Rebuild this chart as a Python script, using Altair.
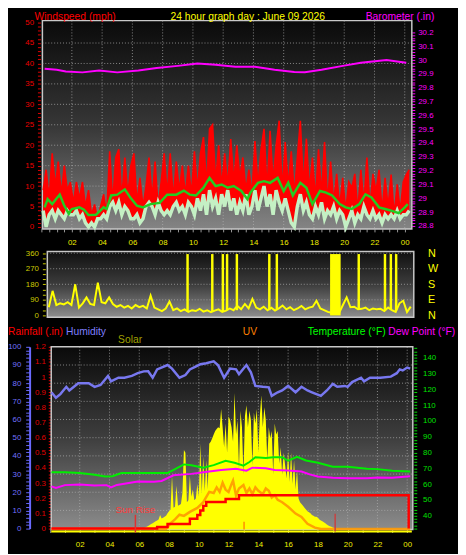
import altair as alt
import pandas as pd

W, H = 458, 546
FONT = "Liberation Sans"

# ---------------- text ----------------
chart_title = "24 hour graph day : June 09 2026"
top_left_title = "Windspeed (mph)"
top_right_title = "Barometer (.in)"
rain_title = "Rainfall (.in)"
hum_title = "Humidity"
solar_title = "Solar"
uv_title = "UV"
temp_title = "Temperature (°F)"
dew_title = "Dew Point (°F)"
sun_rise_label = "Sun Rise"

# ---------------- top panel: wind (one sample every 0.2 h from 00:06) ----------------
gust = [
    9, 14, 7, 18, 10,
    16, 8, 15, 9, 11,
    6, 11, 7, 11, 5,
    9, 3, 5.5, 2, 5,
    8, 3, 18.5, 6, 17,
    19, 7, 17, 8, 15,
    18, 6, 12, 5, 10,
    17, 7, 16, 5, 11,
    18, 8, 18, 7, 16,
    9, 15, 8, 15, 8,
    18.5, 9, 18, 22, 10,
    24, 25, 11, 20, 10,
    18, 10, 21.5, 11, 20,
    12, 17, 9, 14, 8,
    21, 10, 19, 24, 9,
    23.5, 11, 20, 26, 9,
    20.8, 10, 18.5, 8, 17,
    26, 10, 21.6, 9, 17,
    7, 19, 8, 20.8, 6,
    16, 6, 13, 5, 12,
    4, 11, 9.6, 13, 4,
    14, 6, 17, 5, 13,
    8.8, 14, 4, 12, 5,
    12.8, 3, 10.4, 4, 11,
    12.8, 14]
wind = [
    4, 0, 3, 4, 2,
    4, 3, 2, 4, 3,
    3, 4, 2, 3, 1,
    0, 1, 0, 2, 2,
    3, 2, 5, 6, 4,
    6, 3, 5, 4, 2,
    2, 3, 1, 2, 5,
    6, 5, 3, 6, 4,
    3, 4, 3, 5, 6,
    4, 5, 3, 6, 5,
    3, 7, 4, 8, 3,
    9, 5, 7, 3, 8,
    5, 9, 4, 7, 3,
    6, 4, 8, 3, 5,
    9, 4, 7, 10, 5,
    8, 3, 9, 6, 4,
    7, 4, 1, 0, 5,
    8, 4, 6, 3, 2,
    5, 3, 6, 2, 4,
    3, 5, 2, 4, 3,
    0, 2, 4, 1, 3,
    2, 5, 3, 2, 4,
    2, 3, 1, 3, 2,
    3, 2, 4, 2, 3,
    3, 4]
wind_hours = [round(0.1 + 0.2 * i, 2) for i in range(len(gust))]

avg_hours = [0.2, 0.4, 0.7, 1.0, 1.2, 1.5, 1.8, 2.0, 2.5, 2.8, 3.1, 3.6, 4.1, 4.3, 4.6,
             5.0, 5.5, 5.9, 6.3, 6.7, 7.2, 7.8, 8.3, 8.9, 9.4, 9.8, 10.2, 10.7, 11.1, 11.5,
             11.9, 12.3, 12.7, 13.2, 13.6, 13.8, 14.3, 14.7, 15.1, 15.6, 16.0, 16.3, 16.6, 17.1, 17.5,
             17.9, 18.4, 18.8, 19.2, 19.7, 20.1, 20.5, 21.0, 21.4, 21.8, 22.3, 22.7, 23.1, 23.6, 24.0, 24.2]
avg_wind = [4.8, 6.8, 5.6, 7.0, 7.9, 5.2, 3.2, 4.4, 4.8, 4.2, 2.9, 3.0, 4.8, 4.4, 7.7,
            7.9, 9.2, 7.0, 5.2, 4.8, 5.6, 5.9, 7.9, 7.9, 8.9, 7.9, 7.7, 9.6, 12.0, 10.0,
            10.4, 9.6, 10.0, 8.8, 6.8, 8.4, 10.8, 11.2, 10.8, 12.0, 8.8, 10.8, 7.7, 10.8, 9.6,
            5.6, 8.8, 8.4, 7.7, 5.6, 4.8, 4.4, 5.6, 8.0, 7.2, 4.8, 4.4, 4.0, 3.4, 4.8, 5.6]

baro_hours = [0.2, 1.0, 1.6, 2.7, 3.8, 5.0, 6.4, 7.6, 9.0, 10.3, 11.5, 12.8, 14.1, 15.4,
              16.7, 17.4, 18.5, 20.0, 21.1, 22.8, 23.5, 24.1]
baro = [29.937, 29.93, 29.918, 29.911, 29.925, 29.911, 29.925, 29.942, 29.958, 29.975, 29.966,
        29.951, 29.951, 29.93, 29.914, 29.912, 29.93, 29.96, 29.98, 30.0, 29.99, 29.98]

# ---------------- middle panel: wind direction (every 0.25 h from 0.2 h) ----------------
dir_deg = [
    47, 142, 60, 70,
    64, 76, 60, 180,
    45, 70, 104, 66,
    60, 190, 76, 70,
    104, 66, 50, 60,
    45, 55, 40, 60,
    48, 55, 40, 114,
    45, 35, 25, 40,
    80, 30, 40, 25,
    35, 20, 30, 25,
    38, 22, 30, 19,
    28, 35, 20, 28,
    40, 30, 55, 35,
    66, 40, 95, 45,
    35, 50, 30, 45,
    28, 40, 57, 35,
    48, 30, 40, 55,
    35, 45, 50, 85,
    40, 30, 20, 15,
    10, 15, 60, 104,
    47, 50, 35, 38,
    45, 30, 40, 35,
    38, 25, 45, 30,
    20, 70, 85, 19,
    51]
dir_hours = [round(0.2 + 0.25 * i, 2) for i in range(len(dir_deg))]
north_hours = [9.40, 11.04, 11.74, 12.02, 12.67, 14.82, 15.32, 20.75, 22.49, 22.88, 23.23]
north_low = [20, 25, 25, 30, 30, 30, 35, 35, 30, 35, 30]
north_high = [355, 355, 355, 355, 355, 355, 355, 355, 355, 355, 355]
north_block_start = [18.85]
north_block_end = [19.55]
north_block_low = [0]
north_block_high = [355]

# ---------------- bottom panel ----------------
hum_hours = [0.1, 0.4, 0.7, 1.1, 1.3, 1.9, 2.6, 3.0, 3.4, 3.9, 4.1, 4.6, 5.0, 5.5, 5.9,
             6.3, 6.6, 6.9, 7.2, 7.9, 8.2, 8.7, 9.1, 9.4, 10.1, 10.5, 11.0, 11.3, 11.7, 12.1,
             12.5, 12.7, 13.2, 13.5, 13.8, 14.3, 14.7, 14.9, 15.3, 15.6, 16.0, 16.5, 16.9, 17.3,
             17.6, 18.2, 18.6, 19.0, 19.3, 19.8, 20.0, 20.3, 20.9, 21.1, 21.5, 22.2, 22.9, 23.3,
             23.5, 23.7, 24.0, 24.2]
hum = [75, 72, 74, 78, 76, 80, 80, 78, 79, 84, 81, 83, 83, 84, 85.5,
       86.5, 86.6, 83, 87.6, 90, 88, 83, 84.5, 87.6, 90.4, 91, 92, 89.8, 83, 88,
       87.6, 85, 90, 86, 78.5, 78, 77.7, 73, 75, 76, 78.5, 75, 78, 76,
       75, 73, 76, 79.6, 78, 78.5, 78, 80.6, 83, 81, 83, 83, 83.6, 85.5,
       87.6, 87, 88.6, 88]

temp_hours = [0.1, 1.0, 2.0, 3.0, 3.7, 4.2, 4.8, 6.0, 7.9, 8.5, 9.0, 9.5, 10.3, 11.0, 11.8,
              12.4, 13.0, 13.4, 13.8, 14.5, 15.0, 15.6, 16.0, 16.6, 17.2, 18.0, 19.0, 20.0,
              21.3, 22.0, 23.0, 24.2]
temp = [67.5, 67.5, 67, 66, 64.8, 65, 67, 67, 67, 70, 72.5, 72, 70.4, 72, 74.8,
        73.5, 71.7, 74, 77, 76.5, 77, 77, 74.8, 77.3, 75, 73.5, 71, 71,
        69.8, 69.5, 68.5, 68]

dew_hours = [0.1, 0.4, 1.0, 2.0, 3.0, 3.8, 4.1, 4.5, 5.9, 7.0, 7.5, 8.3, 9.5, 10.7, 11.5,
             12.5, 13.2, 13.6, 14.5, 15.1, 16.0, 16.9, 17.5, 18.0, 19.0, 20.0, 21.3, 22.0, 23.0, 24.2]
dew = [58.6, 57.6, 59.4, 59.8, 59.2, 59.4, 58, 59.5, 61.7, 61.5, 62, 65.6, 66.5, 68, 69,
       69.8, 68.5, 70.4, 70, 69, 68.6, 68, 66, 64.8, 64, 63.8, 63.8, 64.2, 64, 65]

rain_hours = [0.1, 7.2, 7.9, 9.4, 9.9, 10.1, 10.3, 10.5, 11.8, 12.7, 24.1]
rain = [0, 0.01, 0.03, 0.065, 0.09, 0.12, 0.15, 0.175, 0.195, 0.22, 0]

# solar radiation, W/m2, every 0.1 h from 06:00
solar = [
    0, 2, 5, 8, 12, 15, 20, 25, 30, 35,
    40, 45, 50, 55, 80, 60, 65, 70, 75, 90,
    100, 110, 295, 120, 125, 240, 130, 135, 140, 200,
    435, 420, 150, 160, 295, 180, 220, 160, 170, 250,
    180, 470, 200, 400, 210, 380, 220, 470, 480, 500,
    520, 540, 550, 560, 555, 660, 560, 450, 580, 420,
    620, 600, 560, 480, 747, 520, 600, 330, 650, 560,
    300, 620, 680, 560, 650, 600, 350, 640, 580, 660,
    420, 620, 735, 560, 670, 600, 380, 560, 500, 540,
    300, 580, 520, 540, 360, 450, 300, 420, 350, 280,
    430, 260, 420, 250, 380, 220, 330, 170, 150, 140,
    130, 120, 110, 100, 95, 90, 80, 75, 70, 70,
    65, 55, 50, 45, 40, 35, 28, 22, 18, 15,
    12, 8, 5, 3, 1, 0]
solar_hours = [round(6.0 + 0.1 * i, 2) for i in range(len(solar))]

uv_hours = [0.1, 7.8, 8.1, 8.4, 8.7, 9.0, 9.4, 9.9, 10.3, 10.7, 11.0, 11.2, 11.4, 11.6, 11.8,
            12.0, 12.2, 12.3, 12.5, 12.7, 13.0, 13.2, 13.4, 13.6, 13.8, 14.0, 14.3, 14.5, 14.7,
            14.9, 15.1, 15.3, 15.6, 16.0, 16.5, 16.9, 17.3, 17.8, 18.2, 24.2]
uv = [0.05, 0.05, 0.54, 0.9, 1.3, 1.2, 1.55, 1.9, 2.4, 3.3, 3.2, 3.7, 3.3, 4.1, 3.5,
      3.3, 4.0, 4.3, 3.0, 3.6, 3.9, 3.2, 3.6, 3.1, 3.7, 3.4, 3.1, 3.6, 3.4,
      2.8, 3.0, 2.6, 2.4, 2.0, 1.4, 1.1, 0.5, 0.17, 0.05, 0.05]

sun_rise_hour = [5.74]
sun_set_hour = [19.16]
solar_noon_hour = [13.04]

# ---------------- scales (pixel ranges place the three panels) ----------------
def S(domain, rng):
    return alt.Scale(domain=domain, range=rng, zero=False, nice=False)

top_x = lambda: S([0, 24], [34.2, 403.8])
ws_y = lambda: S([0, 50], [218, 10])
baro_y = lambda: S([28.8, 30.2], [217, 20.0])
mid_x = lambda: S([0.1, 24.4], [40, 413])
dir_y = lambda: S([0, 360], [308, 244.7])
bot_x = lambda: S([0, 24], [42.7, 406.3])
hum_y = lambda: S([0, 100], [525, 340])
rain_y = lambda: S([0, 1.2], [525, 340])
temp_y = lambda: S([31.3, 146.8], [526, 340])
solar_y = lambda: S([0, 1000], [526, 340])
uv_y = lambda: S([0, 16], [526, 340])

AX = dict(domain=False, grid=False, title=None, labelFont=FONT, labelFontSize=8,
          labelOverlap=False, labelFlush=False)

hour_label = ("(datum.value % 2 == 0 && datum.value > 0) ? (datum.value == 24 ? '00' : "
              "(datum.value < 10 ? '0' + datum.value : '' + datum.value)) : ''")
tenth_label = ("abs(datum.value * 10 - round(datum.value * 10)) < 0.001 ? "
               "format(datum.value, '.1~f') : ''")

top_x_axis = alt.Axis(orient="bottom", offset=-(H - 220), values=[i * 0.5 for i in range(49)],
                      labelExpr=hour_label, tickSize=3, tickColor="#9a9a9a",
                      labelColor="#f0f000", labelPadding=7, **AX)
ws_axis = alt.Axis(orient="left", offset=-33, values=list(range(51)),
                   labelExpr="datum.value % 5 == 0 ? '' + datum.value : ''",
                   tickSize=3, tickColor="#e00000", labelColor="#ee0000", labelPadding=4, **AX)
baro_axis = alt.Axis(orient="right", offset=-(W - 411),
                     values=[round(28.8 + 0.02 * i, 2) for i in range(71)],
                     labelExpr=tenth_label, tickSize=3, tickColor="#ff00ff",
                     labelColor="#ff00ff", labelPadding=3, **AX)
dir_axis = alt.Axis(orient="left", offset=-38, values=list(range(0, 361, 30)),
                    labelExpr="datum.value % 90 == 0 ? '' + datum.value : ''",
                    tickSize=3, tickColor="#cccc00", labelColor="#cccc00", labelPadding=4, **AX)
AXC = dict(AX)
AXC["labelFontSize"] = 11
compass_axis = alt.Axis(orient="right", offset=-(W - 413), values=[0, 90, 180, 270, 360],
                        labelExpr="datum.value == 90 ? 'E' : datum.value == 180 ? 'S' : "
                                  "datum.value == 270 ? 'W' : 'N'",
                        ticks=False, labelColor="#ffff00", labelPadding=14, **AXC)
bot_x_axis = alt.Axis(orient="bottom", offset=-(H - 526), values=list(range(25)),
                      labelExpr=hour_label, tickSize=3, tickColor="#9a9a9a",
                      labelColor="#f0f000", labelPadding=8, **AX)
AXD = dict(AX)
AXD["domain"] = True
hum_axis = alt.Axis(orient="left", offset=-22, values=list(range(0, 101, 2)),
                    labelExpr="datum.value % 10 == 0 ? '' + datum.value : ''",
                    tickSize=4, tickColor="#6a6aff", domainColor="#6a6aff", domainWidth=2,
                    labelColor="#7272ff", labelPadding=5, **AXD)
rain_axis = alt.Axis(orient="left", offset=-44, values=[round(0.02 * i, 2) for i in range(61)],
                     labelExpr=tenth_label, tickSize=3, tickColor="#e00000",
                     labelColor="#e00000", labelPadding=3, **AX)
temp_axis = alt.Axis(orient="right", offset=-(W - 413), values=list(range(32, 147, 2)),
                     labelExpr="(datum.value % 10 == 0 && datum.value >= 40) ? '' + datum.value : ''",
                     tickSize=3, tickColor="#00e000", labelColor="#00e000", labelPadding=6, **AX)

deco = pd.DataFrame({"k": [0]})


def panel_bg(x0, x1, y0, y1, c0, c1, c2):
    grad = alt.LinearGradient(
        gradient="linear",
        stops=[alt.GradientStop(color=c0, offset=0), alt.GradientStop(color=c1, offset=0.5),
               alt.GradientStop(color=c2, offset=1)],
        x1=0, x2=0, y1=0, y2=1)
    return alt.Chart(deco).mark_rect(fill=grad, stroke="#c8c8c8", strokeWidth=1.5).encode(
        x=alt.value(x0), x2=alt.value(x1), y=alt.value(y0), y2=alt.value(y1))


def hgrid(vals, scale, x0, x1):
    return alt.Chart(pd.DataFrame({"v": vals})).mark_rule(
        color="#b0b0b0", strokeDash=[1, 2], strokeWidth=1, opacity=0.75).encode(
        y=alt.Y("v:Q", scale=scale, axis=None), x=alt.value(x0), x2=alt.value(x1))


def vgrid(vals, scale, y0, y1):
    return alt.Chart(pd.DataFrame({"v": vals})).mark_rule(
        color="#b0b0b0", strokeDash=[1, 2], strokeWidth=1, opacity=0.75).encode(
        x=alt.X("v:Q", scale=scale, axis=None), y=alt.value(y0), y2=alt.value(y1))


def label(text, x, y, color, size=10.5, align="left"):
    return alt.Chart(deco).mark_text(text=text, color=color, font=FONT, fontSize=size,
                                     align=align, baseline="middle").encode(
        x=alt.value(x), y=alt.value(y))


layers = []

# ---- top panel ----
layers.append(panel_bg(35, 411, 8, 220, "#0a0a0a", "#363636", "#848484"))
layers.append(hgrid(list(range(5, 50, 5)), ws_y(), 35, 411))
layers.append(vgrid(list(range(2, 25, 2)), top_x(), 8, 220))

top_df = pd.DataFrame({"h": wind_hours, "gust": gust, "wind": wind})
layers.append(alt.Chart(top_df).mark_area(color="#ff0000").encode(
    x=alt.X("h:Q", scale=top_x(), axis=None),
    y=alt.Y("gust:Q", scale=ws_y(), axis=None), y2="wind:Q"))
layers.append(alt.Chart(top_df).mark_line(color="#ff0000", strokeWidth=1.6).encode(
    x=alt.X("h:Q", scale=top_x(), axis=top_x_axis),
    y=alt.Y("gust:Q", scale=ws_y(), axis=ws_axis)))
layers.append(alt.Chart(top_df).mark_line(color="#c4f0c4", strokeWidth=3.5).encode(
    x=alt.X("h:Q", scale=top_x(), axis=None),
    y=alt.Y("wind:Q", scale=ws_y(), axis=None)))
avg_df = pd.DataFrame({"h": avg_hours, "v": avg_wind})
layers.append(alt.Chart(avg_df).mark_line(color="#22cc22", strokeWidth=2.5).encode(
    x=alt.X("h:Q", scale=top_x(), axis=None),
    y=alt.Y("v:Q", scale=ws_y(), axis=None)))
baro_df = pd.DataFrame({"h": baro_hours, "v": baro})
layers.append(alt.Chart(baro_df).mark_line(color="#ff00ff", strokeWidth=2).encode(
    x=alt.X("h:Q", scale=top_x(), axis=None),
    y=alt.Y("v:Q", scale=baro_y(), axis=baro_axis)))

# ---- middle panel ----
layers.append(panel_bg(40, 413, 243, 310, "#101010", "#3c3c3c", "#8e8e8e"))
layers.append(hgrid([90, 180, 270, 360], dir_y(), 40, 413))
dir_df = pd.DataFrame({"h": dir_hours, "v": dir_deg})
layers.append(alt.Chart(dir_df).mark_line(color="#ffff00", strokeWidth=2).encode(
    x=alt.X("h:Q", scale=mid_x(), axis=None),
    y=alt.Y("v:Q", scale=dir_y(), axis=dir_axis)))
spk_df = pd.DataFrame({"h": north_hours, "lo": north_low, "hi": north_high})
layers.append(alt.Chart(spk_df).mark_rule(color="#ffff00", strokeWidth=2.5).encode(
    x=alt.X("h:Q", scale=mid_x(), axis=None),
    y=alt.Y("hi:Q", scale=dir_y(), axis=compass_axis), y2="lo:Q"))
blk_df = pd.DataFrame({"a": north_block_start, "b": north_block_end,
                       "lo": north_block_low, "hi": north_block_high})
layers.append(alt.Chart(blk_df).mark_rect(color="#ffff00").encode(
    x=alt.X("a:Q", scale=mid_x(), axis=None), x2="b:Q",
    y=alt.Y("hi:Q", scale=dir_y(), axis=None), y2="lo:Q"))

# ---- bottom panel ----
layers.append(panel_bg(44, 412, 340, 526, "#0a0a0a", "#3e3e3e", "#8c8c8c"))
layers.append(hgrid(list(range(10, 100, 10)), hum_y(), 44, 412))
layers.append(vgrid(list(range(2, 25, 2)), bot_x(), 340, 526))

sol_df = pd.DataFrame({"h": solar_hours, "v": solar})
layers.append(alt.Chart(sol_df).mark_area(color="#ffff00").encode(
    x=alt.X("h:Q", scale=bot_x(), axis=None),
    y=alt.Y("v:Q", scale=solar_y(), axis=None)))
layers.append(alt.Chart(deco).mark_rule(color="#ffff00", strokeWidth=2).encode(
    x=alt.value(44), x2=alt.value(411), y=alt.value(528)))
uv_df = pd.DataFrame({"h": uv_hours, "v": uv})
layers.append(alt.Chart(uv_df).mark_line(color="#ff9900", strokeWidth=2.5, opacity=0.9).encode(
    x=alt.X("h:Q", scale=bot_x(), axis=None),
    y=alt.Y("v:Q", scale=uv_y(), axis=None)))
hum_df = pd.DataFrame({"h": hum_hours, "v": hum})
layers.append(alt.Chart(hum_df).mark_line(color="#7878f0", strokeWidth=2.5).encode(
    x=alt.X("h:Q", scale=bot_x(), axis=bot_x_axis),
    y=alt.Y("v:Q", scale=hum_y(), axis=hum_axis)))
temp_df = pd.DataFrame({"h": temp_hours, "v": temp})
layers.append(alt.Chart(temp_df).mark_line(color="#00ee00", strokeWidth=2).encode(
    x=alt.X("h:Q", scale=bot_x(), axis=None),
    y=alt.Y("v:Q", scale=temp_y(), axis=temp_axis)))
dew_df = pd.DataFrame({"h": dew_hours, "v": dew})
layers.append(alt.Chart(dew_df).mark_line(color="#ff00ff", strokeWidth=2).encode(
    x=alt.X("h:Q", scale=bot_x(), axis=None),
    y=alt.Y("v:Q", scale=temp_y(), axis=None)))
rain_df = pd.DataFrame({"h": rain_hours, "v": rain})
layers.append(alt.Chart(rain_df).mark_line(color="#ff0000", strokeWidth=2.5,
                                           interpolate="step-after").encode(
    x=alt.X("h:Q", scale=bot_x(), axis=None),
    y=alt.Y("v:Q", scale=rain_y(), axis=rain_axis)))

sr_df = pd.DataFrame({"h": sun_rise_hour})
ss_df = pd.DataFrame({"h": sun_set_hour})
sn_df = pd.DataFrame({"h": solar_noon_hour})
layers.append(alt.Chart(sr_df).mark_rule(color="#e03030", strokeWidth=1.5).encode(
    x=alt.X("h:Q", scale=bot_x(), axis=None), y=alt.value(511), y2=alt.value(529)))
layers.append(alt.Chart(ss_df).mark_rule(color="#c84040", strokeWidth=1.5).encode(
    x=alt.X("h:Q", scale=bot_x(), axis=None), y=alt.value(510), y2=alt.value(528)))
layers.append(alt.Chart(sn_df).mark_rule(color="#ff8c00", strokeWidth=1.5).encode(
    x=alt.X("h:Q", scale=bot_x(), axis=None), y=alt.value(518), y2=alt.value(526)))
layers.append(alt.Chart(sr_df).mark_text(text=sun_rise_label, color="#ff3a3a", font=FONT,
                                         fontSize=10, align="center", baseline="middle").encode(
    x=alt.X("h:Q", scale=bot_x(), axis=None), y=alt.value(506)))

# ---- titles ----
layers.append(label(top_left_title, 27, 4.5, "#ff0000"))
layers.append(label(chart_title, 244, 4.5, "#ffff00", align="center"))
layers.append(label(top_right_title, 364, 4.5, "#ff00ff"))
layers.append(label(rain_title, 0, 325, "#ff0000"))
layers.append(label(hum_title, 59, 325, "#7f7fff"))
layers.append(label(solar_title, 112, 333, "#a0a000"))
layers.append(label(uv_title, 239, 325, "#ff8000"))
layers.append(label(temp_title, 305, 325, "#00ff00"))
layers.append(label(dew_title, 387, 325, "#ff00ff"))

chart = alt.layer(*layers).resolve_scale(x="independent", y="independent").properties(
    width=W, height=H, background="#000000", padding=0,
    autosize=alt.AutoSizeParams(type="none")
).configure_view(stroke=None)

chart.save("out.html", embed_options={"renderer": "svg", "actions": False})
